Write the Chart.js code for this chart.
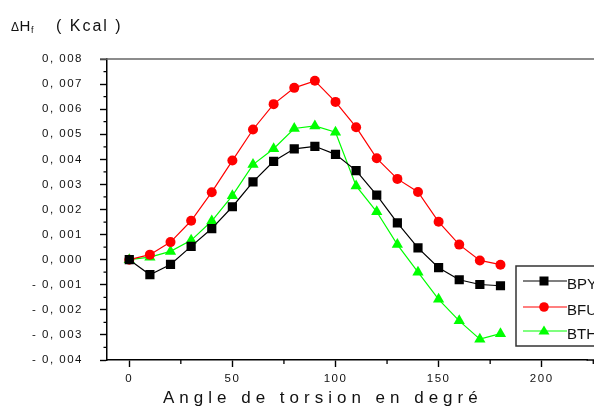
<!DOCTYPE html>
<html><head><meta charset="utf-8">
<script src="https://cdn.jsdelivr.net/npm/chart.js@4/dist/chart.umd.min.js"></script>
<style>html,body{margin:0;padding:0;background:#fff;overflow:hidden}#wrap{width:594px;height:406px;position:relative}</style>
</head><body><div id="wrap"><canvas id="c" width="594" height="406"></canvas></div>
<script>
// ---- data ----
const angles = [0,10,20,30,40,50,60,70,80,90,100,110,120,130,140,150,160,170,180];
const bpy = [0,-0.0006,-0.00019,0.00053,0.00124,0.00211,0.0031,0.00392,0.00442,0.00452,0.0042,0.00355,0.00257,0.00147,0.00047,-0.00032,-0.0008,-0.00099,-0.00104];
const bfu = [0,0.0002,0.0007,0.00155,0.00269,0.00395,0.00519,0.0062,0.00685,0.00713,0.00629,0.00528,0.00404,0.00322,0.0027,0.00151,0.0006,-0.00003,-0.0002];
const bth = [0,0.0001,0.00033,0.00077,0.00154,0.00255,0.00379,0.00442,0.00523,0.00533,0.00508,0.00294,0.00191,0.0006,-0.0005,-0.00158,-0.00244,-0.00317,-0.00295];
const seriesNames = ['BPY','BFU','BTH'];
const xMajorTicks = [0,50,100,150,200];
const xMinorTicks = [25,75,125,175,225];
const yMajorStep = 0.001;
const yMinorTicks = [-0.0035,-0.0025,-0.0015,-0.0005,0.0005,0.0015,0.0025,0.0035,0.0045,0.0055,0.0065,0.0075];
const xTitle = 'Angle de torsion en degré';
const yTitleDelta = 'Δ';
const yTitleH = 'H';
const yTitleSub = 'f';
const yTitleUnit = '( Kcal )';

const FONT = '"Liberation Sans", Arial, sans-serif';
const colors = ['#000000','#ff0000','#00ff00'];
const styles = ['rect','circle','triangle'];
const radii = [6.5,5,6.5];
const seriesData = [bpy,bfu,bth];

function yLabel(v){
  const n = Math.round(v*1000);
  const s = '0, 00' + Math.abs(n);
  return n < 0 ? '- ' + s : s;
}

const decor = {
  id:'decor',
  beforeDraw(chart){
    chart.ctx.letterSpacing = '1.5px';
  },
  afterDraw(chart){
    const ctx = chart.ctx;
    const xs = chart.scales.x, ys = chart.scales.y;
    const area = chart.chartArea;
    ctx.save();
    ctx.letterSpacing = '0px';
    // top grey line
    ctx.strokeStyle = '#666';
    ctx.lineWidth = 1.4;
    ctx.beginPath(); ctx.moveTo(100, area.top); ctx.lineTo(594, area.top); ctx.stroke();
    // x axis line continues to the page edge
    ctx.strokeStyle = '#000';
    ctx.lineWidth = 1.5;
    ctx.beginPath(); ctx.moveTo(area.right - 1, area.bottom); ctx.lineTo(594, area.bottom); ctx.stroke();
    // minor ticks
    ctx.lineWidth = 1.3;
    ctx.beginPath();
    xMinorTicks.forEach(v=>{const px = xs.getPixelForValue(v); ctx.moveTo(px, area.bottom); ctx.lineTo(px, area.bottom+4);});
    yMinorTicks.forEach(v=>{const py = ys.getPixelForValue(v); ctx.moveTo(area.left, py); ctx.lineTo(area.left-3.5, py);});
    ctx.stroke();
    // titles
    ctx.fillStyle = '#111';
    ctx.textBaseline = 'alphabetic';
    ctx.textAlign = 'left';
    ctx.font = '12px ' + FONT;
    ctx.fillText(yTitleDelta, 11, 31);
    ctx.font = '15px ' + FONT;
    ctx.fillText(yTitleH, 19.5, 31);
    ctx.font = '9px ' + FONT;
    ctx.fillText(yTitleSub, 31, 33);
    ctx.font = '16px ' + FONT;
    ctx.letterSpacing = '2px';
    ctx.fillText(yTitleUnit, 56, 31);
    ctx.font = '17px ' + FONT;
    ctx.letterSpacing = '5px';
    ctx.fillText(xTitle, 163, 403);
    ctx.letterSpacing = '0px';
    // legend
    const bx = 516, by = 266, bw = 100, bh = 80;
    ctx.strokeStyle = '#333';
    ctx.lineWidth = 1.5;
    ctx.strokeRect(bx, by, bw, bh);
    const rows = [281, 307, 331];
    ctx.font = '15px ' + FONT;
    seriesNames.forEach((name,i)=>{
      const y = rows[i];
      ctx.strokeStyle = colors[i];
      ctx.lineWidth = 1.2;
      ctx.beginPath(); ctx.moveTo(523, y); ctx.lineTo(567, y); ctx.stroke();
      ctx.fillStyle = colors[i];
      const cx = 544;
      ctx.beginPath();
      if (styles[i]==='rect'){ ctx.rect(cx-4.5, y-4.5, 9, 9); }
      else if (styles[i]==='circle'){ ctx.arc(cx, y, 4.8, 0, Math.PI*2); }
      else { ctx.moveTo(cx, y-5.5); ctx.lineTo(cx+5.5, y+3.5); ctx.lineTo(cx-5.5, y+3.5); ctx.closePath(); }
      ctx.fill();
      ctx.fillStyle = '#111';
      ctx.fillText(name, 567, y + 8);
    });
    ctx.restore();
  }
};

new Chart(document.getElementById('c'), {
  type:'line',
  data:{
    datasets: seriesNames.map((name,i)=>({
      label:name,
      data: angles.map((a,j)=>({x:a, y:seriesData[i][j]})),
      borderColor: colors[i],
      backgroundColor: colors[i],
      borderWidth: 1.2,
      pointStyle: styles[i],
      pointRadius: radii[i],
      pointBorderWidth: 0,
      pointBackgroundColor: colors[i],
      tension: 0,
      fill:false
    }))
  },
  options:{
    responsive:false,
    animation:false,
    devicePixelRatio:1,
    layout:{padding:{top:59,left:0,right:0,bottom:0}},
    plugins:{legend:{display:false}, tooltip:{enabled:false}},
    scales:{
      x:{
        type:'linear', min:-10.8, max:222.2,
        afterBuildTicks(s){ s.ticks = xMajorTicks.map(v=>({value:v})); },
        afterFit(s){ s.height = 46; },
        grid:{drawOnChartArea:false, drawTicks:true, tickLength:7, tickColor:'#000', tickWidth:1.4},
        border:{display:true, color:'#000', width:1.5},
        ticks:{color:'#111', font:{family:FONT, size:11.5}, padding:5, maxRotation:0, autoSkip:false}
      },
      y:{
        type:'linear', min:-0.004, max:0.008,
        afterFit(s){ s.width = 107; },
        grid:{drawOnChartArea:false, drawTicks:true, tickLength:7, tickColor:'#000', tickWidth:1.4},
        border:{display:true, color:'#000', width:1.5},
        ticks:{stepSize:yMajorStep, color:'#111', font:{family:FONT, size:11.5}, padding:17, callback:(v)=>yLabel(v)}
      }
    }
  },
  plugins:[decor]
});
</script></body></html>
